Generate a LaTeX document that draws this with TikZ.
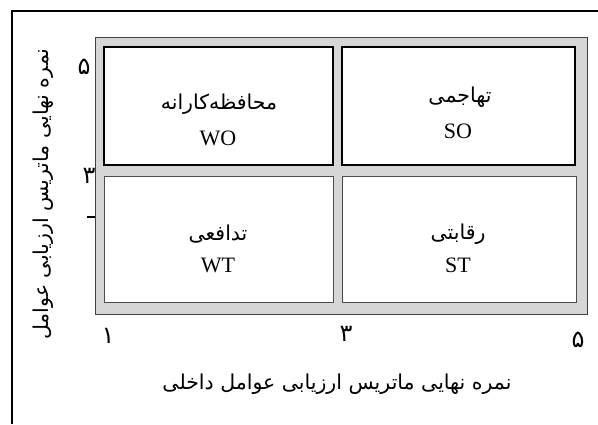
\documentclass[tikz,border=0pt]{standalone}
\usepackage{fontspec}
\setmainfont{Liberation Serif}
\newfontfamily\fa[Script=Arabic]{DejaVu Sans}
\TeXXeTstate=1
\tikzset{
  frameline/.style={line width=1.3pt, black},
  graybox/.style={fill=black!16, draw=black!75, line width=0.9pt},
  topcell/.style={fill=white, draw=black, line width=1.3pt},
  botcell/.style={fill=white, draw=black!70, line width=0.9pt},
  fatext/.style={font=\fa\fontsize{20.5}{22}\selectfont, inner sep=0pt},
  latext/.style={font=\fontsize{22}{24}\selectfont, inner sep=0pt},
  axlabel/.style={font=\fa\fontsize{20.5}{22}\selectfont, inner sep=0pt},
  digit/.style={font=\fa\fontsize{24}{26}\selectfont, inner sep=0pt},
  tickline/.style={line width=1.3pt, black}
}
\begin{document}
\begin{tikzpicture}[x=1pt,y=-1pt]
\useasboundingbox (0,0) rectangle (598,424);
% outer frame (top and left edges)
\coordinate (fr1) at (598,11);
\coordinate (fr2) at (12,11);
\coordinate (fr3) at (12,424);
\draw[frameline] (fr1) -- (fr2) -- (fr3);
% matrix
\draw[graybox] (95,37) rectangle (587,314);
\draw[topcell] (104,47) rectangle (333,165);
\draw[topcell] (342,47) rectangle (575,165);
\draw[botcell] (104,176) rectangle (333,302);
\draw[botcell] (342,176) rectangle (576,302);
% cell texts
\node[fatext] (wofa) at (219,104) {\beginR محافظه‌کارانه\endR};
\node[latext] (wo) at (218,138) {WO};
\node[fatext] (sofa) at (460,97) {\beginR تهاجمی\endR};
\node[latext] (so) at (458,131) {SO};
\node[fatext] (wtfa) at (218,234) {\beginR تدافعی\endR};
\node[latext] (wt) at (218,265) {WT};
\node[fatext] (stfa) at (458,234) {\beginR رقابتی\endR};
\node[latext] (st) at (458,265) {ST};
% y axis
\node[digit] (y5) at (84,67) {\beginR ۵\endR};
\node[digit] (y3) at (89,176) {\beginR ۳\endR};
\coordinate (tk1) at (87,217);
\coordinate (tk2) at (95,217);
\draw[tickline] (tk1) -- (tk2);
\node[axlabel, rotate=90] (ylab) at (43,194) {\beginR نمره نهایی ماتریس ارزیابی عوامل\endR};
% x axis
\node[digit] (x1) at (108,336) {\beginR ۱\endR};
\node[digit] (x3) at (346,334) {\beginR ۳\endR};
\node[digit] (x5) at (578,340) {\beginR ۵\endR};
\node[axlabel] (xlab) at (337,384) {\beginR نمره نهایی ماتریس ارزیابی عوامل داخلی\endR};
\end{tikzpicture}
\end{document}
